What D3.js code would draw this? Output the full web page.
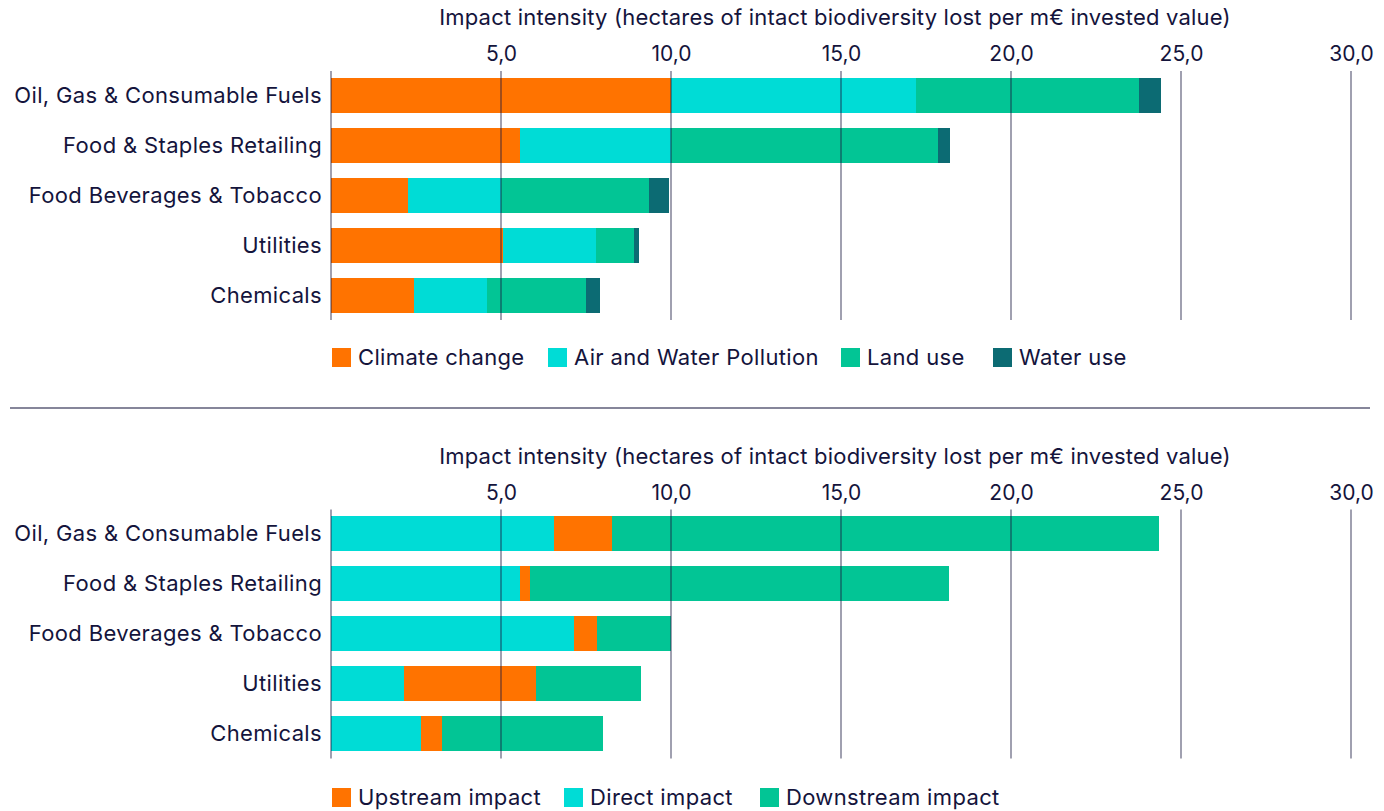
<!DOCTYPE html>
<html>
<head>
<meta charset="utf-8">
<script src="https://cdn.jsdelivr.net/npm/d3@7"></script>
<style>
  html, body { margin: 0; padding: 0; background: #ffffff; }
  svg { display: block; }
  text { font-family: Inter, "Noto Sans", sans-serif; fill: #14143c; }
  .label { font-size: 22px; letter-spacing: 0.35px; }
</style>
</head>
<body>
<svg id="chart" width="1384" height="811"></svg>
<script>
// Sectors, shared by both panels
const categories = [
  "Oil, Gas & Consumable Fuels",
  "Food & Staples Retailing",
  "Food Beverages & Tobacco",
  "Utilities",
  "Chemicals"
];

// Panel 1: impact by pressure (hectares per m€)
const climateChange     = [10.0, 5.55, 2.25, 5.05, 2.45];
const airWaterPollution = [7.2, 4.45, 2.75, 2.75, 2.15];
const landUse           = [6.55, 7.85, 4.35, 1.1, 2.9];
const waterUse          = [0.65, 0.35, 0.6, 0.17, 0.4];

// Panel 2: impact by value-chain position (hectares per m€)
const directImpact      = [6.55, 5.57, 7.15, 2.14, 2.64];
const upstreamImpact    = [1.7, 0.29, 0.67, 3.9, 0.61];
const downstreamImpact  = [16.1, 12.33, 2.18, 3.09, 4.76];

const tickValues = [5, 10, 15, 20, 25, 30];
const axisTitle = "Impact intensity (hectares of intact biodiversity lost per m\u20AC invested value)";

const colors = {
  orange: "#ff7300",
  cyan: "#00dcd6",
  green: "#02c595",
  teal: "#0c6b73"
};

const locale = d3.formatLocale({ decimal: ",", thousands: ".", grouping: [3], currency: ["", "\u20AC"] });
const fmt = locale.format(".1f");

const svg = d3.select("#chart");
const x = d3.scaleLinear().domain([0, 30]).range([331, 1351]);

function drawPanel(opts) {
  const g = svg.append("g");
  const y = d3.scaleBand().domain(categories).range([opts.top, opts.top + 250]).paddingInner(0.3).paddingOuter(0.15);

  // axis title
  g.append("text")
    .attr("class", "label")
    .attr("x", 835).attr("y", opts.top - 45)
    .attr("text-anchor", "middle")
    .style("letter-spacing", "0.2px")
    .text(axisTitle);

  // tick labels along the top
  const axis = d3.axisTop(x).tickValues(tickValues).tickFormat(fmt).tickSize(0).tickPadding(0);
  const ax = g.append("g").attr("transform", `translate(0,${opts.top - 9})`).call(axis);
  ax.select(".domain").remove();
  ax.selectAll("text").attr("font-size", 21).style("font-family", "Inter, 'Noto Sans', sans-serif").attr("fill", "#14143c");

  // stacked bars
  const stack = categories.map((c, i) => {
    let acc = 0;
    return opts.series.map(s => {
      const seg = { cat: c, x0: acc, x1: acc + s.values[i], color: s.color };
      acc += s.values[i];
      return seg;
    });
  }).flat();

  g.append("g").selectAll("rect").data(stack).join("rect")
    .attr("x", d => x(d.x0))
    .attr("y", d => y(d.cat))
    .attr("width", d => x(d.x1) - x(d.x0))
    .attr("height", y.bandwidth())
    .attr("fill", d => d.color)
    .attr("shape-rendering", "crispEdges");

  // vertical grid lines drawn over the bars
  g.append("g").selectAll("line").data([0].concat(tickValues)).join("line")
    .attr("x1", d => x(d)).attr("x2", d => x(d))
    .attr("y1", opts.top + 1).attr("y2", opts.top + 250)
    .attr("stroke", "#1a1a40")
    .attr("stroke-opacity", 0.55)
    .attr("stroke-width", 1.5);

  // category labels
  g.append("g").selectAll("text").data(categories).join("text")
    .attr("class", "label")
    .attr("x", 322)
    .attr("y", d => y(d) + y.bandwidth() / 2)
    .attr("dy", "0.35em")
    .attr("text-anchor", "end")
    .text(d => d);

  // legend
  const lg = g.append("g").attr("transform", `translate(0,${opts.legendY})`);
  opts.legend.forEach(item => {
    lg.append("rect")
      .attr("x", item.x).attr("y", 0)
      .attr("width", 19).attr("height", 19)
      .attr("fill", item.color);
    lg.append("text")
      .attr("class", "label")
      .attr("x", item.x + 26).attr("y", 9.5)
      .attr("dy", "0.35em")
      .text(item.label);
  });
}

drawPanel({
  top: 70,
  legendY: 348,
  series: [
    { values: climateChange, color: colors.orange },
    { values: airWaterPollution, color: colors.cyan },
    { values: landUse, color: colors.green },
    { values: waterUse, color: colors.teal }
  ],
  legend: [
    { label: "Climate change", color: colors.orange, x: 332 },
    { label: "Air and Water Pollution", color: colors.cyan, x: 548 },
    { label: "Land use", color: colors.green, x: 841 },
    { label: "Water use", color: colors.teal, x: 993 }
  ]
});

// separator between the panels
svg.append("line")
  .attr("x1", 10).attr("x2", 1370)
  .attr("y1", 408).attr("y2", 408)
  .attr("stroke", "#5e5e78")
  .attr("stroke-width", 1.5);

drawPanel({
  top: 508.5,
  legendY: 788,
  series: [
    { values: directImpact, color: colors.cyan },
    { values: upstreamImpact, color: colors.orange },
    { values: downstreamImpact, color: colors.green }
  ],
  legend: [
    { label: "Upstream impact", color: colors.orange, x: 332 },
    { label: "Direct impact", color: colors.cyan, x: 564 },
    { label: "Downstream impact", color: colors.green, x: 760 }
  ]
});
</script>
</body>
</html>
